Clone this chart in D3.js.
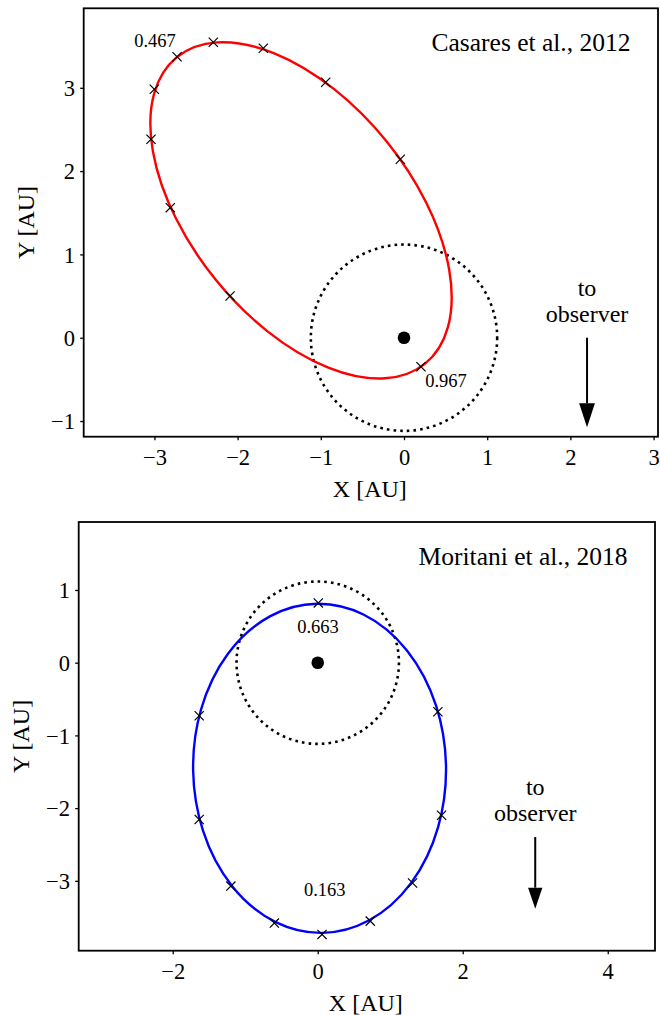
<!DOCTYPE html>
<html><head><meta charset="utf-8">
<script src="https://cdn.jsdelivr.net/npm/d3@7"></script>
<style>
body{margin:0;background:#fff}
text{font-family:"Liberation Serif","Times New Roman",serif;fill:#000}
</style>
</head><body>
<svg id="c" width="660" height="1015"></svg>
<script>
// ---------- data ----------
const panelTitles = ["Casares et al., 2012", "Moritani et al., 2018"];
const semiMajor = [2.37, 2.27];          // AU
const eccentricity = [0.83, 0.64];
const omegaDeg = [129, 271];             // direction of apastron from +X
const companionRadius = [1.12, 1.12];    // dotted circle (AU)

const xLimits = [[-3.85, 3.053], [-3.297, 4.652]];
const yLimits = [[-1.188, 3.954], [-3.961, 1.935]];
const xTicks = [[-3, -2, -1, 0, 1, 2, 3], [-2, 0, 2, 4]];
const yTicks = [[-1, 0, 1, 2, 3], [-3, -2, -1, 0, 1]];

const markX1 = [0.204, -0.044, -0.941, -1.691, -2.292, -2.728, -3.001, -3.041, -2.809, -2.091];
const markY1 = [-0.348, 2.142, 3.066, 3.474, 3.546, 3.373, 2.982, 2.382, 1.561, 0.501];
const markX2 = [0.008, -1.635, -1.635, -1.198, -0.598, 0.059, 0.725, 1.308, 1.708, 1.657];
const markY2 = [0.822, -0.730, -2.157, -3.072, -3.581, -3.737, -3.554, -3.030, -2.098, -0.675];

const phaseText1 = ["0.967", "0.467"];
const phaseX1 = [0.505, -2.993];
const phaseY1 = [-0.592, 3.486];
const phaseText2 = ["0.663", "0.163"];
const phaseX2 = [0.004, 0.096];
const phaseY2 = [0.405, -3.209];

const arrowX = [2.2, 3.0];
const arrowStartY = [0.0, -2.397];
const arrowLength = [1.076, 0.986];
const arrowHeadLength = [0.288, 0.289];
const arrowHeadWidth = [0.19, 0.197];

// ---------- layout / style ----------
const boxes = [
  {x: [83.7, 658], y: [436.7, 8.3]},
  {x: [78.7, 655], y: [950.7, 522]}
];
const orbitColor = ["#ff0000", "#0000ff"];
const markers = [[markX1, markY1], [markX2, markY2]];
const phases = [[phaseText1, phaseX1, phaseY1], [phaseText2, phaseX2, phaseY2]];
const ylabBaseX = [33.5, 28.5];

const svg = d3.select("#c");

for (let p = 0; p < 2; p++) {
  const b = boxes[p];
  const x = d3.scaleLinear().domain(xLimits[p]).range(b.x);
  const y = d3.scaleLinear().domain(yLimits[p]).range(b.y);
  const g = svg.append("g");

  const clipId = "clip" + p;
  g.append("clipPath").attr("id", clipId).append("rect")
    .attr("x", b.x[0]).attr("y", b.y[1]).attr("width", b.x[1] - b.x[0]).attr("height", b.y[0] - b.y[1]);
  const plot = g.append("g").attr("clip-path", `url(#${clipId})`);

  // dotted circle (companion/disc size)
  plot.append("circle")
    .attr("cx", x(0)).attr("cy", y(0))
    .attr("r", x(companionRadius[p]) - x(0))
    .attr("fill", "none").attr("stroke", "#000")
    .attr("stroke-width", 2.6).attr("stroke-dasharray", "2.6,4.1");

  // orbit ellipse (focus at origin)
  const a = semiMajor[p], e = eccentricity[p], w = omegaDeg[p] * Math.PI / 180;
  const bb = a * Math.sqrt(1 - e * e);
  const cxD = a * e * Math.cos(w), cyD = a * e * Math.sin(w);
  const pcx = x(cxD), pcy = y(cyD);
  plot.append("ellipse")
    .attr("cx", pcx).attr("cy", pcy)
    .attr("rx", x(a) - x(0)).attr("ry", x(bb) - x(0))
    .attr("transform", `rotate(${-omegaDeg[p]},${pcx},${pcy})`)
    .attr("fill", "none").attr("stroke", orbitColor[p]).attr("stroke-width", 2.4);

  // x markers
  const [mx, my] = markers[p];
  const ms = 4.6;
  plot.selectAll("path.mk").data(d3.range(mx.length)).join("path")
    .attr("class", "mk")
    .attr("d", i => {
      const X = x(mx[i]), Y = y(my[i]);
      return `M${X - ms},${Y - ms}L${X + ms},${Y + ms}M${X - ms},${Y + ms}L${X + ms},${Y - ms}`;
    })
    .attr("stroke", "#000").attr("stroke-width", 1.2).attr("fill", "none");

  // central star
  plot.append("circle").attr("cx", x(0)).attr("cy", y(0)).attr("r", 6.3).attr("fill", "#000");

  // phase labels
  const [pt, px, py] = phases[p];
  g.selectAll("text.ph").data(d3.range(pt.length)).join("text")
    .attr("class", "ph")
    .attr("x", i => x(px[i])).attr("y", i => y(py[i]))
    .attr("text-anchor", "middle").attr("font-size", 18.5)
    .text(i => pt[i]);

  // arrow to observer
  const ax = x(arrowX[p]);
  const y0 = y(arrowStartY[p]);
  const tipD = arrowStartY[p] - arrowLength[p];
  const baseD = tipD + arrowHeadLength[p];
  const hw = (x(arrowHeadWidth[p]) - x(0)) / 2;
  g.append("line").attr("x1", ax).attr("x2", ax).attr("y1", y0).attr("y2", y(baseD))
    .attr("stroke", "#000").attr("stroke-width", 2);
  g.append("path")
    .attr("d", `M${ax - hw},${y(baseD)}L${ax + hw},${y(baseD)}L${ax},${y(tipD)}Z`)
    .attr("fill", "#000");
  g.append("text").attr("x", ax).attr("y", y0 - 41.5).attr("text-anchor", "middle")
    .attr("font-size", 24).text("to");
  g.append("text").attr("x", ax).attr("y", y0 - 16).attr("text-anchor", "middle")
    .attr("font-size", 24).text("observer");

  // title
  g.append("text").attr("x", b.x[1] - 27.5).attr("y", b.y[1] + 42.5)
    .attr("text-anchor", "end").attr("font-size", 25.5).text(panelTitles[p]);

  // axes
  const xa = g.append("g").attr("transform", `translate(0,${b.y[0]})`)
    .call(d3.axisBottom(x).tickValues(xTicks[p]).tickSize(3.5).tickFormat(d3.format("d")));
  xa.select(".domain").remove();
  xa.selectAll(".tick line").attr("stroke-width", 1.3);
  xa.selectAll("text").attr("dy", null).attr("y", 28.3)
    .attr("font-size", 22.5).attr("font-family", '"Liberation Serif",serif').attr("fill", "#000");

  const ya = g.append("g").attr("transform", `translate(${b.x[0]},0)`)
    .call(d3.axisLeft(y).tickValues(yTicks[p]).tickSize(3.5).tickFormat(d3.format("d")));
  ya.select(".domain").remove();
  ya.selectAll(".tick line").attr("stroke-width", 1.3);
  ya.selectAll("text").attr("x", -8.7).attr("dy", "0.34em")
    .attr("font-size", 22.5).attr("font-family", '"Liberation Serif",serif').attr("fill", "#000");

  // frame
  g.append("rect").attr("x", b.x[0]).attr("y", b.y[1])
    .attr("width", b.x[1] - b.x[0]).attr("height", b.y[0] - b.y[1])
    .attr("fill", "none").attr("stroke", "#000").attr("stroke-width", 1.8);

  // axis labels
  g.append("text").attr("x", (b.x[0] + b.x[1]) / 2 - 1).attr("y", b.y[0] + 60)
    .attr("text-anchor", "middle").attr("font-size", 24).text("X [AU]");
  const ymid = (b.y[0] + b.y[1]) / 2;
  g.append("text").attr("transform", `translate(${ylabBaseX[p]},${ymid}) rotate(-90)`)
    .attr("text-anchor", "middle").attr("font-size", 24).text("Y [AU]");
}
</script>
</body></html>
